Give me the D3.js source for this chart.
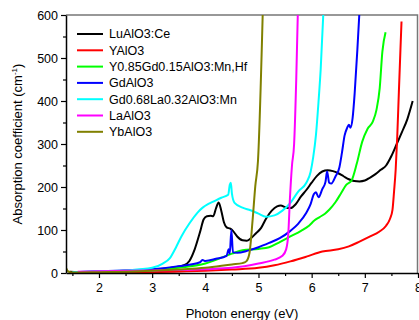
<!DOCTYPE html>
<html>
<head>
<meta charset="utf-8">
<script src="https://cdn.jsdelivr.net/npm/d3@7"></script>
<style>
  body { margin: 0; background: #fff; }
  text { font-family: Arial, "Liberation Sans", sans-serif; }
</style>
</head>
<body>
<svg id="chart" width="419" height="320"></svg>
<script>
// series data, [photon energy (eV), absorption coefficient (cm-1)]
const seriesNames = ["LuAlO3:Ce", "YAlO3", "Y0.85Gd0.15AlO3:Mn,Hf", "GdAlO3",
  "Gd0.68La0.32AlO3:Mn", "LaAlO3", "YbAlO3"];
const seriesColors = ["#000000", "#ff0000", "#00ff00", "#0000ff", "#00ffff", "#ff00ff", "#808000"];

const luAlO3Ce = [[1.45,3],[1.6,2],[2,3],[2.5,5],[3,8],[3.4,13],[3.6,18],[3.7,28],[3.8,55],[3.9,95],
  [3.97,125],[4.03,132],[4.1,133],[4.15,132],[4.2,150],[4.25,164],[4.3,145],[4.35,118],[4.4,106],
  [4.47,103],[4.52,98],[4.6,85],[4.7,76],[4.78,75],[4.85,80],[4.95,92],[5.05,105],[5.15,128],
  [5.25,145],[5.35,155],[5.42,157],[5.5,153],[5.6,151],[5.7,160],[5.8,178],[5.9,193],[6.0,210],
  [6.1,226],[6.2,236],[6.3,239],[6.4,237],[6.5,232],[6.6,225],[6.7,218],[6.8,214],[6.9,213],
  [7.0,215],[7.1,222],[7.2,230],[7.3,240],[7.4,250],[7.5,272],[7.6,300],[7.7,328],[7.8,358],[7.9,400]];
const yAlO3 = [[1.5,1],[2,1],[3,2],[4,5],[4.5,8],[5,12],[5.3,18],[5.6,27],[5.9,38],[6.2,50],[6.5,55],
  [6.7,62],[6.9,73],[7.1,85],[7.27,96],[7.4,110],[7.47,125],[7.52,147],[7.55,190],[7.58,240],
  [7.61,318],[7.64,420],[7.67,520],[7.69,585]];
const yGdAlO3Mn = [[1.5,2],[2,3],[2.5,4],[3,6],[3.5,12],[4,22],[4.5,45],[4.7,53],[5.0,56],[5.2,60],
  [5.4,72],[5.6,85],[5.8,98],[5.95,110],[6.05,122],[6.15,130],[6.25,138],[6.33,147],[6.45,165],
  [6.55,185],[6.65,205],[6.75,215],[6.85,255],[6.95,305],[7.05,335],[7.15,352],[7.22,380],
  [7.28,430],[7.33,515],[7.39,560]];
const gdAlO3 = [[1.5,2],[2,4],[2.5,6],[3,9],[3.5,16],[3.9,25],[3.95,30],[4.0,28],[4.2,33],[4.4,40],
  [4.44,55],[4.46,45],[4.49,100],[4.52,48],[4.6,47],[4.8,52],[5.0,60],[5.2,70],[5.4,81],[5.6,98],
  [5.75,115],[5.9,140],[5.98,160],[6.04,183],[6.08,188],[6.13,176],[6.2,195],[6.26,212],[6.29,236],
  [6.33,210],[6.37,208],[6.45,225],[6.52,245],[6.57,280],[6.62,320],[6.67,338],[6.7,345],[6.73,338],
  [6.77,360],[6.81,420],[6.86,520],[6.9,610]];
const gdLaAlO3Mn = [[1.5,2],[2,4],[2.5,6],[3,12],[3.2,22],[3.33,34],[3.45,60],[3.55,85],[3.7,115],
  [3.85,140],[3.95,152],[4.05,160],[4.15,166],[4.3,175],[4.43,182],[4.46,205],[4.48,210],[4.5,185],
  [4.55,163],[4.7,152],[4.85,146],[5.0,138],[5.14,131],[5.3,134],[5.45,145],[5.6,163],[5.75,190],
  [5.9,210],[5.98,235],[6.03,270],[6.08,320],[6.13,400],[6.17,474],[6.22,605]];
const laAlO3 = [[1.6,3],[2,4],[2.5,5],[3,6],[3.5,7],[4,9],[4.5,12],[5.0,22],[5.3,31],[5.45,40],
  [5.52,55],[5.56,90],[5.59,170],[5.63,250],[5.67,300],[5.71,450],[5.74,605]];
const ybAlO3 = [[1.38,12],[1.42,4],[1.5,1],[2,2],[2.5,3],[3,5],[3.5,8],[4,12],[4.5,20],[4.7,23],
  [4.77,27],[4.83,46],[4.89,124],[4.94,202],[4.99,260],[5.08,605]];

const seriesData = [luAlO3Ce, yAlO3, yGdAlO3Mn, gdAlO3, gdLaAlO3Mn, laAlO3, ybAlO3];

const xTicks = [2, 3, 4, 5, 6, 7, 8];
const yTicks = [0, 100, 200, 300, 400, 500, 600];

const margin = { top: 15, right: 1, bottom: 47, left: 66 };
const width = 419, height = 320;

const svg = d3.select("#chart");

const x = d3.scaleLinear().domain([1.38, 8]).range([margin.left, width - margin.right]);
const y = d3.scaleLinear().domain([0, 600]).range([height - margin.bottom, margin.top]);

svg.append("clipPath").attr("id", "clip")
  .append("rect")
  .attr("x", margin.left).attr("y", margin.top)
  .attr("width", x.range()[1] - margin.left)
  .attr("height", y.range()[0] - margin.top);

// frame (top/right)
svg.append("path")
  .attr("d", `M${margin.left},${margin.top}H${x.range()[1] - 0.5}V${y(0)}`)
  .attr("fill", "none")
  .attr("stroke", "#777")
  .attr("stroke-width", 1.5);

const line = d3.line()
  .x(d => x(d[0]))
  .y(d => y(d[1]))
  .curve(d3.curveMonotoneX);

svg.append("g").attr("clip-path", "url(#clip)")
  .selectAll("path")
  .data(seriesData)
  .enter()
  .append("path")
  .attr("d", line)
  .attr("fill", "none")
  .attr("stroke", (d, i) => seriesColors[i])
  .attr("stroke-width", 2)
  .attr("stroke-linejoin", "round");

// axes
const xAxis = svg.append("g")
  .attr("transform", `translate(0,${y(0)})`)
  .call(d3.axisBottom(x).tickValues(xTicks).tickSize(5).tickSizeOuter(0).tickFormat(d3.format("d")));
svg.append("g")
  .attr("transform", `translate(0,${y(0)})`)
  .call(d3.axisBottom(x).tickValues(d3.range(1.5, 8, 1)).tickSize(3).tickFormat(""))
  .call(g => g.select(".domain").remove());

const yAxis = svg.append("g")
  .attr("transform", `translate(${margin.left},0)`)
  .call(d3.axisLeft(y).tickValues(yTicks).tickSize(5).tickSizeOuter(0));
svg.append("g")
  .attr("transform", `translate(${margin.left},0)`)
  .call(d3.axisLeft(y).tickValues(d3.range(50, 600, 100)).tickSize(3).tickFormat(""))
  .call(g => g.select(".domain").remove());

svg.selectAll(".domain").attr("stroke-width", 1.5);
svg.selectAll(".tick line").attr("stroke-width", 1.2);
xAxis.selectAll("text").attr("font-size", 12.5).attr("dy", "0.9em").attr("font-family", "Arial, 'Liberation Sans'");
yAxis.selectAll("text").attr("font-size", 12.5).attr("font-family", "Arial, 'Liberation Sans'");

// axis titles
svg.append("text")
  .attr("x", 242).attr("y", 318)
  .attr("text-anchor", "middle")
  .attr("font-size", 13)
  .text("Photon energy (eV)");

const yTitle = svg.append("text")
  .attr("transform", `translate(22,${(margin.top + y(0)) / 2}) rotate(-90)`)
  .attr("text-anchor", "middle")
  .attr("font-size", 13);
yTitle.append("tspan").text("Absorption coefficient (cm");
yTitle.append("tspan").attr("font-size", 8).attr("dy", -5).text("-1");
yTitle.append("tspan").attr("dy", 5).text(")");

// legend
const legend = svg.append("g").attr("transform", "translate(77,34)");
const rows = legend.selectAll("g")
  .data(seriesNames)
  .enter()
  .append("g")
  .attr("transform", (d, i) => `translate(0,${i * 16.3})`);
rows.append("line")
  .attr("x1", 0).attr("x2", 26)
  .attr("stroke", (d, i) => seriesColors[i])
  .attr("stroke-width", 2);
rows.append("text")
  .attr("x", 32).attr("dy", "0.35em")
  .attr("font-size", 12.5)
  .text(d => d);
</script>
</body>
</html>
